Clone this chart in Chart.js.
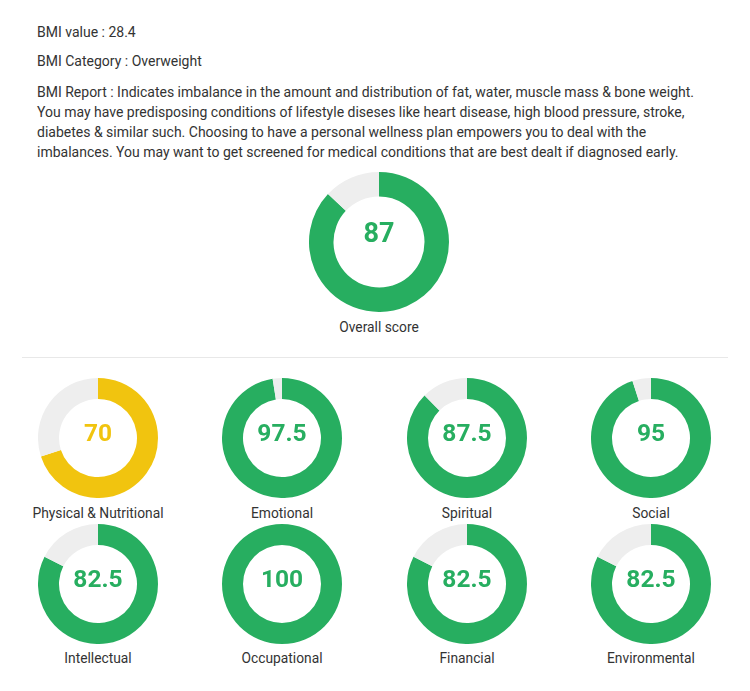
<!DOCTYPE html>
<html><head><meta charset="utf-8">
<script src="https://cdn.jsdelivr.net/npm/chart.js@4"></script>
<style>
body{margin:0;background:#fff;font-family:Roboto,"Noto Sans",sans-serif;color:#333;}
#page{position:relative;width:750px;height:691px;overflow:hidden;}
.t{position:absolute;left:37px;font-size:14px;line-height:20px;white-space:nowrap;margin:0;}
.sep{position:absolute;left:22px;width:706px;top:357px;height:1px;background:#e8e8e8;}
.wrap{position:absolute;}
.wrap canvas{display:block;}
.num{position:absolute;left:0;width:100%;text-align:center;font-weight:700;white-space:nowrap;}
.lbl{position:absolute;width:200px;text-align:center;font-size:13.8px;line-height:16px;white-space:nowrap;color:#333;}
</style></head>
<body>
<div id="page">
  <p class="t" id="bmiValue" style="top:22px"></p>
  <p class="t" id="bmiCat" style="top:51px"></p>
  <p class="t" id="bmiReport" style="top:82px"></p>
  <div class="sep"></div>
</div>
<script>
// ---- data ----
const bmiValue = 28.4;
const bmiCategory = "Overweight";
const bmiReportLines = [
  "BMI Report : Indicates imbalance in the amount and distribution of fat, water, muscle mass & bone weight.",
  "You may have predisposing conditions of lifestyle diseses like heart disease, high blood pressure, stroke,",
  "diabetes & similar such. Choosing to have a personal wellness plan empowers you to deal with the",
  "imbalances. You may want to get screened for medical conditions that are best dealt if diagnosed early."
];
const overallLabel = "Overall score";
const overallScore = 87;
const categories = ["Physical & Nutritional","Emotional","Spiritual","Social","Intellectual","Occupational","Financial","Environmental"];
const scores = [70, 97.5, 87.5, 95, 82.5, 100, 82.5, 82.5];
const maxScore = 100;

// ---- style ----
const GREEN = "#27ae60", YELLOW = "#f1c40f", GREY = "#eeeeee";
const colorFor = v => v < 75 ? YELLOW : GREEN;

document.getElementById("bmiValue").textContent = "BMI value : " + bmiValue;
document.getElementById("bmiCat").textContent = "BMI Category : " + bmiCategory;
const rep = document.getElementById("bmiReport");
bmiReportLines.forEach((l,i)=>{ if(i) rep.appendChild(document.createElement("br")); rep.appendChild(document.createTextNode(l)); });

const page = document.getElementById("page");

function donut(cx, cy, r, value, label, numSize, numOffset, labelTop){
  const w = document.createElement("div");
  w.className = "wrap";
  w.style.left = (cx - r) + "px"; w.style.top = (cy - r) + "px";
  w.style.width = (2*r) + "px"; w.style.height = (2*r) + "px";
  const c = document.createElement("canvas");
  c.width = 2*r; c.height = 2*r;
  w.appendChild(c);
  const n = document.createElement("div");
  n.className = "num";
  n.style.fontSize = numSize + "px"; n.style.lineHeight = numSize + "px";
  n.style.color = colorFor(value);
  n.style.top = (r - numOffset - 0.486*numSize) + "px";
  n.textContent = value;
  w.appendChild(n);
  page.appendChild(w);
  const lb = document.createElement("div");
  lb.className = "lbl";
  lb.style.left = (cx - 100) + "px"; lb.style.top = labelTop + "px";
  lb.textContent = label;
  page.appendChild(lb);
  new Chart(c, {
    type: "doughnut",
    data: { labels: ["Score","Remaining"], datasets: [{ data: [value, maxScore - value], backgroundColor: [colorFor(value), GREY], borderWidth: 0 }] },
    options: {
      responsive: false, animation: false, cutout: "65%",
      layout: { padding: 0 },
      plugins: { legend: { display: false }, tooltip: { enabled: false } },
      events: []
    }
  });
}

donut(379, 242, 70, overallScore, overallLabel, 27, 9, 319);
const colsX = [98, 282, 467, 651];
const rowsY = [438, 584];
const labelTops = [505, 650];
scores.forEach((v,i)=>{
  const row = Math.floor(i/4), col = i%4;
  donut(colsX[col], rowsY[row], 60, v, categories[i], 24.5, 5.5, labelTops[row]);
});
</script>
</body></html>
